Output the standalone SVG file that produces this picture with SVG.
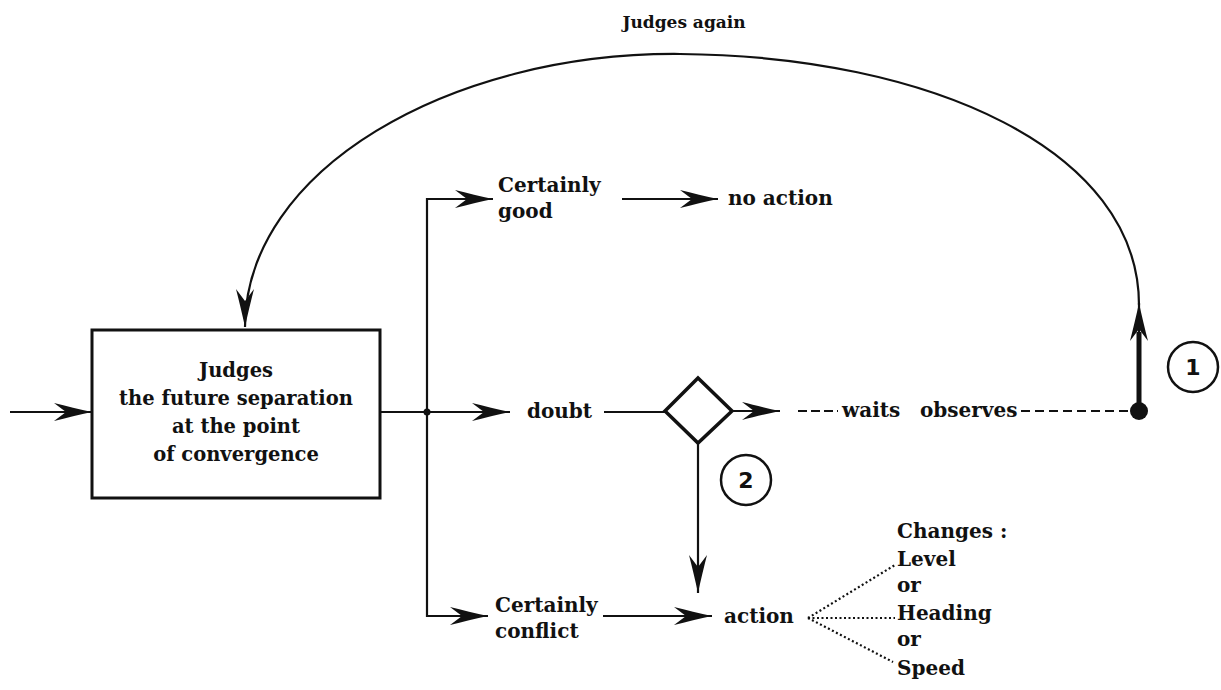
<svg xmlns="http://www.w3.org/2000/svg" width="1221" height="690" viewBox="0 0 1221 690">
<style>
.t{font-family:"DejaVu Serif","Liberation Serif",serif;font-weight:bold;font-size:20px;fill:#111}
.bx{font-family:"DejaVu Serif","Liberation Serif",serif;font-weight:bold;font-size:19.5px;fill:#111;text-anchor:middle}
.n{font-family:"DejaVu Sans","Liberation Sans",sans-serif;font-weight:bold;font-size:22px;fill:#111;text-anchor:middle}
.ln{fill:none;stroke:#111;stroke-width:2.2}
.ar{marker-end:url(#arr)}
.dash{fill:none;stroke:#111;stroke-width:2.2;stroke-dasharray:9 5}
.dot{fill:none;stroke:#111;stroke-width:2.2;stroke-dasharray:2 2.5}
.circ{fill:none;stroke:#111;stroke-width:2.5}
</style>
<defs>
<marker id="arr" markerUnits="userSpaceOnUse" markerWidth="40" markerHeight="20" refX="38" refY="9" orient="auto" overflow="visible">
<path d="M38,9 C26,6.5 12,3 0,0 L12,9 L0,18 C12,15 26,11.5 38,9 Z" fill="#111"/>
</marker>
</defs>
<rect width="1221" height="690" fill="#fff"/>

<g id="connectors">
<path class="ln ar" d="M10,412 H92"/>
<path class="ln" d="M380,412 H427"/>
<path class="ln ar" d="M427,412 V199 H493"/>
<path class="ln ar" d="M427,412 V616 H488"/>
<path class="ln ar" d="M427,412 H510"/>
<circle cx="427" cy="412" r="3.5" fill="#111"/>
<path class="ln ar" d="M622,199 H718"/>
<path class="ln" d="M604,412 H665"/>
<path class="ln ar" d="M732,411 H780"/>
<path class="dash" style="stroke-dasharray:9 4" d="M798,411 H838"/>
<path class="dash" d="M1021,411 H1135"/>
<circle cx="1139" cy="411" r="9" fill="#111"/>
<path fill="none" stroke="#111" stroke-width="5" d="M1139,411 V332"/>
<path class="ln ar" d="M1139,345 V303"/>
<path class="ln ar" d="M1139,305 C1139,150 930,56 680,54 C450,52 245,170 245,327"/>
<path class="ln ar" d="M698,442 V593"/>
<path class="ln ar" d="M603,616 H712"/>
<path class="dot" d="M808,618 L895,565"/>
<path class="dot" d="M808,618 H895"/>
<path class="dot" d="M808,618 L893,662"/>
</g>

<g id="judges-box">
<rect x="92" y="330" width="288" height="168" fill="#fff" stroke="#111" stroke-width="3"/>
<text class="bx" x="236" y="377">Judges</text>
<text class="bx" x="236" y="405">the future separation</text>
<text class="bx" x="236" y="433">at the point</text>
<text class="bx" x="236" y="461">of convergence</text>
</g>

<g id="judges-again">
<text class="t" x="684" y="28" text-anchor="middle" style="font-size:17px">Judges again</text>
</g>

<g id="certainly-good">
<text class="t" x="498" y="192">Certainly</text>
<text class="t" x="498" y="218">good</text>
</g>

<g id="no-action">
<text class="t" x="728" y="205">no action</text>
</g>

<g id="doubt">
<text class="t" x="527" y="418">doubt</text>
</g>

<g id="diamond">
<path d="M698,378 L732,411 L698,443 L665,411 Z" fill="#fff" stroke="#111" stroke-width="3.5" stroke-linejoin="miter"/>
</g>

<g id="waits-observes">
<text class="t" x="842" y="417">waits</text>
<text class="t" x="920" y="417">observes</text>
</g>

<g id="marker-1">
<circle class="circ" cx="1193" cy="367" r="25"/>
<text class="n" x="1193" y="375">1</text>
</g>

<g id="marker-2">
<circle class="circ" cx="746" cy="480" r="25"/>
<text class="n" x="746" y="488">2</text>
</g>

<g id="certainly-conflict">
<text class="t" x="495" y="612">Certainly</text>
<text class="t" x="495" y="638">conflict</text>
</g>

<g id="action">
<text class="t" x="724" y="623">action</text>
</g>

<g id="changes">
<text class="t" x="897" y="538">Changes :</text>
<text class="t" x="897" y="566">Level</text>
<text class="t" x="897" y="592">or</text>
<text class="t" x="897" y="620">Heading</text>
<text class="t" x="897" y="646">or</text>
<text class="t" x="897" y="675">Speed</text>
</g>
</svg>
